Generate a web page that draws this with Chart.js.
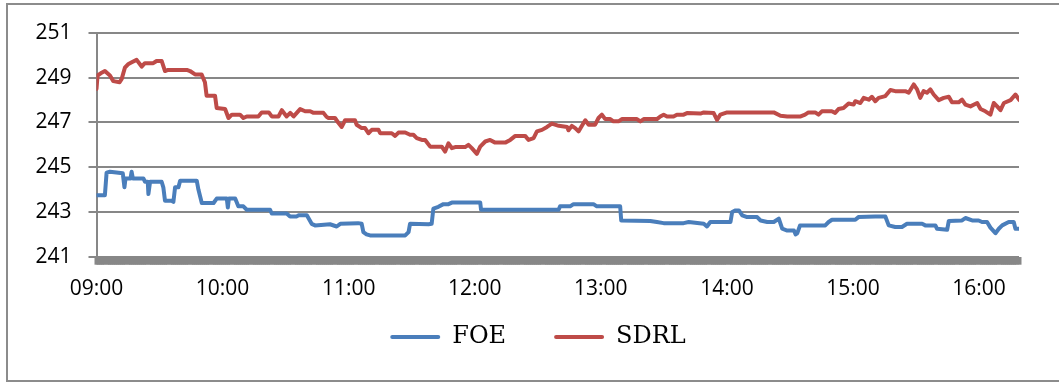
<!DOCTYPE html>
<html><head><meta charset="utf-8">
<script src="https://cdn.jsdelivr.net/npm/chart.js@4/dist/chart.umd.min.js"></script>
<style>html,body{margin:0;padding:0;background:#fff;}#wrap{width:1059px;height:383px;position:relative;}</style>
</head><body><div id="wrap"><canvas id="c" width="1059" height="383"></canvas></div>
<script>
// minutes after 09:00
const foeMinutes = [0,4.0,4.8,6.4,12.5,13.3,13.8,16.2,16.7,17.3,22.3,23.1,24.4,24.7,25.5,31.0,31.8,32.6,35.8,36.6,37.4,39.0,39.8,47.7,48.5,50.1,55.7,57.2,62.0,62.5,63.0,66.0,67.5,69.9,71.5,82.6,83.4,90.5,92.1,95.3,96.1,100.1,102.4,104.0,111.1,114.3,116,124.5,126.2,127.0,128.5,130.2,146.9,148.5,149.2,158.0,159.5,160.3,162.7,165.1,167.5,169.1,182.6,183.0,219.9,220.6,225.4,227.0,236.5,238.1,249.2,249.7,263.5,266.7,269.9,279.4,281.8,289.0,290.5,292.1,301.7,302.5,304.1,305.7,307.3,309.6,314.4,316.0,319.2,322.3,324.7,326.3,328.7,331.9,332.7,333.5,334.8,346.8,348.4,350.0,361.1,362.6,370.6,375.4,377.0,380.1,383.3,385.7,392.9,394.4,399.2,400.0,404.8,405.6,411.9,413.5,416.7,419.8,421.4,423.8,425.4,427.8,429.4,431.0,434.1,436.5,437.3,439.2];
const foeValues = [243.75,243.75,244.76,244.8,244.73,244.1,244.5,244.5,244.8,244.5,244.5,244.35,244.35,243.8,244.35,244.35,244.1,243.5,243.5,243.45,244.1,244.1,244.4,244.4,244.0,243.4,243.4,243.6,243.6,243.2,243.6,243.6,243.25,243.25,243.1,243.1,242.93,242.93,242.8,242.8,242.85,242.85,242.47,242.4,242.45,242.35,242.47,242.5,242.47,242.1,242.0,241.95,241.95,242.1,242.47,242.45,242.47,243.15,243.23,243.35,243.35,243.42,243.42,243.1,243.1,243.25,243.25,243.35,243.35,243.25,243.25,242.62,242.6,242.55,242.5,242.5,242.55,242.47,242.35,242.55,242.55,243.0,243.07,243.07,242.85,242.77,242.77,242.62,242.55,242.55,242.7,242.25,242.17,242.17,242.0,242.05,242.4,242.4,242.55,242.65,242.65,242.77,242.8,242.8,242.4,242.33,242.33,242.47,242.47,242.4,242.4,242.25,242.2,242.6,242.62,242.73,242.62,242.62,242.55,242.55,242.3,242.05,242.25,242.4,242.55,242.55,242.25,242.25];
const sdrlMinutes = [0,0.5,2,4,6.4,8,11,12,13.5,15,17,19.1,21.5,23,27,28.6,31,32.6,34,43,44.5,46.9,50,51.6,52.4,56.4,57.2,61.2,62.8,64.4,68.3,69.9,71.5,77,78.6,82,83.4,86.6,88.2,90.5,92.2,93.8,96.9,99.3,101.7,103.3,108,109.5,110.4,113.5,115,116.7,118.3,123,123.8,126.2,127.8,129.4,131,134.2,135,140.5,142.1,143.7,146.9,149.2,150.8,152.4,154.8,156.4,158.8,164.3,165.9,167.5,169.1,170.7,175.4,177,178.6,181,182.6,185,187.3,189.7,194.5,196.9,199.3,204,205.6,208,209.6,212,214.4,216.7,220,224,224.6,226.2,227.8,229.4,231,232.6,234.2,237.3,238.9,240.5,242.1,244.5,246,248.4,250,257.2,258.8,260.4,266.7,268.3,269.9,271.5,274.6,276.2,279.4,281,287.4,289,293.7,295.3,296.9,300.1,319.2,322.3,325.5,328.7,335.1,337.2,338.8,342,343.6,345.2,349.9,351.5,353.1,355.5,357.9,360.3,361.1,363.5,365.1,367.5,369,370.6,372.2,375.4,377.8,380.1,384.9,386.5,388.9,390.5,392,393.6,395.2,396.8,398.4,400.8,403.2,405.6,407.1,410.3,411.9,413.5,415.9,419.1,420.7,423,425.4,427,428.6,430.2,431.8,435,437.3,439.2];
const sdrlValues = [248.5,249.1,249.2,249.3,249.1,248.85,248.8,248.95,249.45,249.6,249.7,249.8,249.5,249.65,249.65,249.75,249.75,249.3,249.35,249.35,249.3,249.15,249.15,248.8,248.2,248.2,247.65,247.6,247.2,247.35,247.35,247.2,247.27,247.27,247.45,247.45,247.27,247.27,247.55,247.27,247.43,247.27,247.6,247.5,247.5,247.43,247.43,247.25,247.2,247.2,247.0,246.8,247.1,247.1,246.9,246.75,246.75,246.52,246.67,246.67,246.52,246.52,246.4,246.55,246.55,246.45,246.45,246.3,246.22,246.22,245.92,245.92,245.7,246.07,245.85,245.9,245.9,246.0,245.85,245.6,245.92,246.15,246.22,246.1,246.1,246.22,246.4,246.4,246.22,246.3,246.6,246.67,246.8,246.95,246.85,246.8,246.65,246.85,246.75,246.6,246.85,247.1,246.9,246.9,247.2,247.35,247.15,247.15,247.05,247.05,247.15,247.15,247.05,247.15,247.15,247.27,247.35,247.27,247.27,247.35,247.35,247.42,247.4,247.45,247.42,247.12,247.35,247.45,247.45,247.45,247.3,247.27,247.27,247.35,247.45,247.45,247.35,247.5,247.5,247.43,247.6,247.65,247.85,247.8,247.95,247.87,248.1,248.02,248.15,247.95,248.1,248.18,248.45,248.4,248.4,248.33,248.7,248.48,248.1,248.4,248.33,248.48,248.25,248.0,248.1,248.15,247.9,247.9,248.02,247.8,247.72,247.87,247.6,247.5,247.35,247.87,247.72,247.55,247.87,248.0,248.25,248.0];
const hourLabels = ['09:00','10:00','11:00','12:00','13:00','14:00','15:00','16:00'];
const yMin = 241, yMax = 251, yStep = 2;

const toPts = (xs, ys) => xs.map((x, i) => ({x, y: ys[i]}));

const frame = {
  id: 'frame',
  beforeDraw(chart) {
    const c = chart.ctx; c.save();
    c.fillStyle = '#fff'; c.fillRect(0, 0, chart.width, chart.height);
    c.strokeStyle = '#8c8c8c'; c.lineWidth = 2;
    c.strokeRect(7, 4, 1060, 377);
    c.restore();
  }
};
// place the legend like the original (centred on the framed box, just under the axis labels)
const legendPlace = {
  id: 'legendPlace',
  afterLayout(chart) {
    const lg = chart.legend; if (!lg) return;
    const dx = 538 - (lg.left + lg.right) / 2;
    lg.left += dx; lg.right += dx;
    const h = lg.height; lg.top = 277; lg.bottom = lg.top + h;
  }
};

const tickFont = {family: 'Open Sans', size: 21};
new Chart(document.getElementById('c'), {
  type: 'line',
  data: {
    datasets: [
      {label: 'FOE', data: toPts(foeMinutes, foeValues), borderColor: '#4A7EBB', backgroundColor: '#4A7EBB', borderWidth: 4, pointRadius: 0, tension: 0, borderJoinStyle: 'round', borderCapStyle: 'round'},
      {label: 'SDRL', data: toPts(sdrlMinutes, sdrlValues), borderColor: '#BE4B48', backgroundColor: '#BE4B48', borderWidth: 4, pointRadius: 0, tension: 0, borderJoinStyle: 'round', borderCapStyle: 'round'}
    ]
  },
  options: {
    responsive: false, animation: false, devicePixelRatio: 1,
    layout: {padding: {left: 0, right: 40, top: 33, bottom: 0}},
    plugins: {
      tooltip: {enabled: false},
      legend: {
        position: 'bottom',
        labels: {
          color: '#000', font: {family: 'DejaVu Serif', size: 24},
          boxWidth: 50, boxHeight: 4, padding: 48,
          generateLabels(chart) {
            const items = Chart.defaults.plugins.legend.labels.generateLabels(chart);
            items.forEach(it => { it.fillStyle = it.strokeStyle; it.lineWidth = 0; it.borderRadius = 2; });
            return items;
          }
        }
      }
    },
    scales: {
      x: {
        type: 'linear', min: 0, max: 439,
        afterFit(s) { s.height = 44.3; },
        grid: {drawOnChartArea: false, drawTicks: true, tickLength: 8, tickWidth: 4, tickColor: '#878787'},
        border: {display: false},
        ticks: {
          stepSize: 1, autoSkip: false, maxRotation: 0, minRotation: 0, padding: 12,
          color: '#000', font: tickFont,
          callback: (v) => { const r = Math.round(v); return (Math.abs(v - r) < 1e-6 && r % 60 === 0) ? hourLabels[r / 60] : ''; }
        }
      },
      y: {
        min: yMin, max: yMax,
        afterFit(s) { s.width = 96.5; },
        grid: {color: '#878787', lineWidth: 2, tickLength: 8},
        border: {display: true, color: '#878787', width: 2},
        ticks: {stepSize: yStep, padding: 17, color: '#000', font: tickFont}
      }
    }
  },
  plugins: [frame, legendPlace]
});
</script></body></html>
